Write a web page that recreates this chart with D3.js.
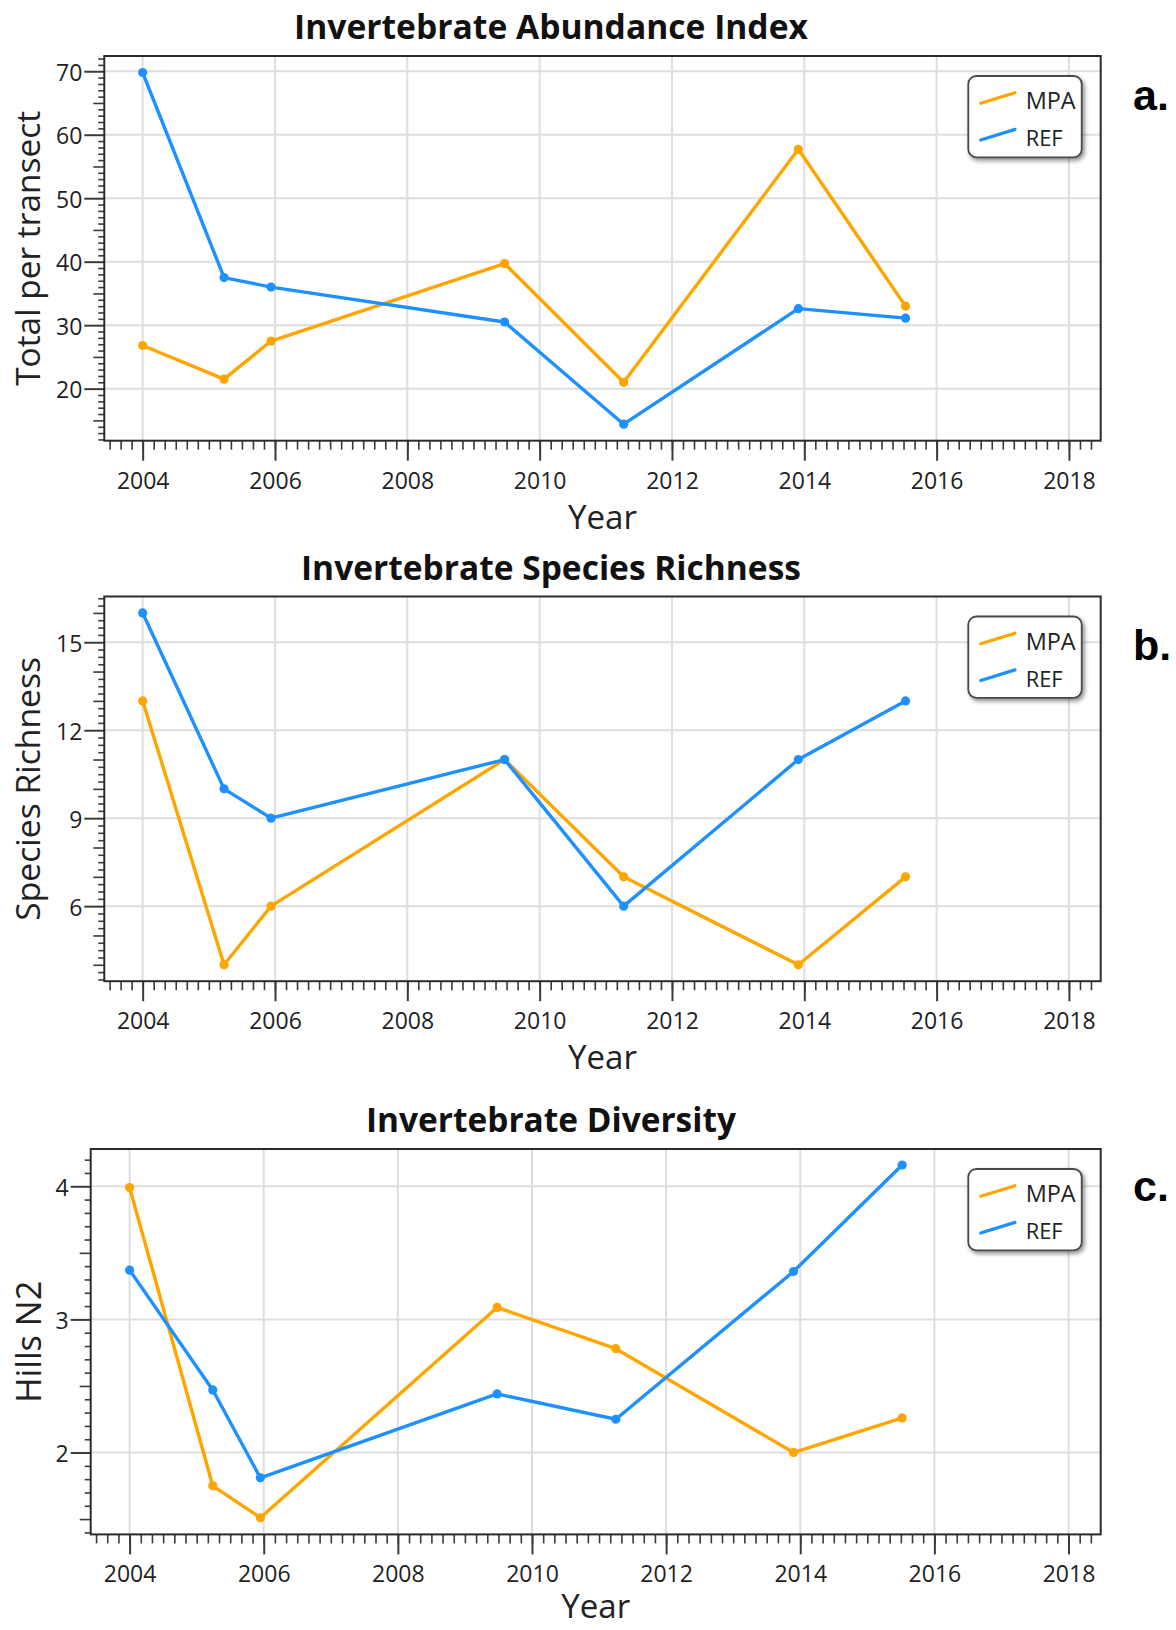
<!DOCTYPE html>
<html>
<head>
<meta charset="utf-8">
<script src="https://cdn.jsdelivr.net/npm/d3@7"></script>
<style>
  html, body { margin: 0; padding: 0; background: #fff; }
  svg { display: block; }
</style>
</head>
<body>
<svg id="chart" width="1176" height="1630"></svg>
<script>
// ---------------- DATA ----------------
const seriesNames = ["MPA", "REF"];
const seriesColors = ["#FFA500", "#1E90FF"];

const abundanceYears = [2004.0, 2005.23, 2005.94, 2009.47, 2011.27, 2013.91, 2015.53];
const abundanceMPA   = [26.8, 21.5, 27.5, 39.7, 21.0, 57.7, 33.0];
const abundanceREF   = [69.8, 37.5, 36.0, 30.5, 14.4, 32.6, 31.1];

const richnessYears = [2004.0, 2005.23, 2005.94, 2009.47, 2011.27, 2013.91, 2015.53];
const richnessMPA   = [13, 4, 6, 11, 7, 4, 7];
const richnessREF   = [16, 10, 9, 11, 6, 11, 13];

const diversityYears = [2004.0, 2005.24, 2005.95, 2009.48, 2011.25, 2013.9, 2015.52];
const diversityMPA   = [3.99, 1.75, 1.51, 3.09, 2.78, 2.0, 2.26];
const diversityREF   = [3.37, 2.47, 1.81, 2.44, 2.25, 3.36, 4.16];

const xTickYears = [2004, 2006, 2008, 2010, 2012, 2014, 2016, 2018];
const yTicksA = [20, 30, 40, 50, 60, 70];
const yTicksB = [6, 9, 12, 15];
const yTicksC = [2, 3, 4];

const titles = ["Invertebrate Abundance Index", "Invertebrate Species Richness", "Invertebrate Diversity"];
const yLabels = ["Total per transect", "Species Richness", "Hills N2"];
const xLabel = "Year";
const panelLetters = ["a.", "b.", "c."];

// ---------------- LAYOUT ----------------
const FONT = "'Segoe UI', 'Open Sans', 'Noto Sans', sans-serif";
const xDomain = [2003.42, 2018.48];

const panels = [
  { title: titles[0], yLabel: yLabels[0], letter: panelLetters[0],
    years: abundanceYears, series: [abundanceMPA, abundanceREF],
    yTicks: yTicksA, yDomain: [11.8, 72.4], minorStep: 1, midStep: 5,
    left: 104.3, right: 1100.7, top: 56, bottom: 440.7,
    titleW: 514, yLabW: 275, letterY: 110 },
  { title: titles[1], yLabel: yLabels[1], letter: panelLetters[1],
    years: richnessYears, series: [richnessMPA, richnessREF],
    yTicks: yTicksB, yDomain: [3.44, 16.56], minorStep: 0.25, midStep: 1,
    left: 104.3, right: 1100.7, top: 596.5, bottom: 981.2,
    titleW: 500, yLabW: 264, letterY: 660 },
  { title: titles[2], yLabel: yLabels[2], letter: panelLetters[2],
    years: diversityYears, series: [diversityMPA, diversityREF],
    yTicks: yTicksC, yDomain: [1.385, 4.28], minorStep: 0.1, midStep: 0.5,
    left: 90.7, right: 1100.7, top: 1149, bottom: 1534.4,
    titleW: 370, yLabW: 122, letterY: 1201 }
];

const svg = d3.select("#chart");

// drop shadow filter for legend
const defs = svg.append("defs");
const f = defs.append("filter").attr("id", "shadow").attr("x", "-20%").attr("y", "-20%").attr("width", "150%").attr("height", "150%");
f.append("feDropShadow").attr("dx", 2).attr("dy", 2.5).attr("stdDeviation", 2).attr("flood-color", "#000").attr("flood-opacity", 0.45);

function fitWidth(sel, target) {
  const w = sel.node().getComputedTextLength();
  const fs = parseFloat(sel.attr("font-size"));
  if (w > 0) sel.attr("font-size", (fs * target / w).toFixed(2));
}

function range(start, stop, step) {
  const out = [];
  const n = Math.floor((stop - start) / step + 1e-9);
  for (let i = 0; i <= n; i++) out.push(+(start + i * step).toFixed(6));
  return out;
}

panels.forEach((p) => {
  const g = svg.append("g");
  const x = d3.scaleLinear().domain(xDomain).range([p.left, p.right]);
  const y = d3.scaleLinear().domain(p.yDomain).range([p.bottom, p.top]);
  const W = p.right - p.left, H = p.bottom - p.top;

  // grid
  g.append("g").selectAll("line").data(xTickYears).join("line")
    .attr("x1", d => x(d)).attr("x2", d => x(d))
    .attr("y1", p.top).attr("y2", p.bottom)
    .attr("stroke", "#dedede").attr("stroke-width", 2);
  g.append("g").selectAll("line").data(p.yTicks).join("line")
    .attr("x1", p.left).attr("x2", p.right)
    .attr("y1", d => y(d)).attr("y2", d => y(d))
    .attr("stroke", "#dedede").attr("stroke-width", 2);

  // x axis: major ticks
  const xAxis = d3.axisBottom(x).tickValues(xTickYears).tickFormat(d3.format("d"))
    .tickSizeInner(20).tickSizeOuter(0).tickPadding(10);
  const xa = g.append("g").attr("transform", `translate(0,${p.bottom})`).call(xAxis);
  xa.select(".domain").remove();
  xa.selectAll(".tick line").attr("stroke", "#3a3a3a").attr("stroke-width", 2);
  xa.selectAll(".tick text").attr("font-family", FONT).attr("font-size", 23).attr("fill", "#222")
    .attr("y", 48).attr("dy", "0");
  // x minor ticks
  const xMinor = range(2003.5, 2018.48, 1 / 6).filter(v => v > xDomain[0] && v < xDomain[1]);
  const xm = d3.axisBottom(x).tickValues(xMinor).tickFormat("").tickSizeInner(9).tickSizeOuter(0);
  const xmg = g.append("g").attr("transform", `translate(0,${p.bottom})`).call(xm);
  xmg.select(".domain").remove();
  xmg.selectAll(".tick line").attr("stroke", "#3a3a3a").attr("stroke-width", 1.6);

  // y axis major
  const yAxis = d3.axisLeft(y).tickValues(p.yTicks).tickFormat(d3.format("d"))
    .tickSizeInner(20).tickSizeOuter(0).tickPadding(2);
  const ya = g.append("g").attr("transform", `translate(${p.left},0)`).call(yAxis);
  ya.select(".domain").remove();
  ya.selectAll(".tick line").attr("stroke", "#3a3a3a").attr("stroke-width", 2);
  ya.selectAll(".tick text").attr("font-family", FONT).attr("font-size", 23).attr("fill", "#222")
    .attr("dy", "0.4em");
  // y minor + medium ticks
  const lo = Math.ceil(p.yDomain[0] / p.minorStep - 1e-9) * p.minorStep;
  const yMinorAll = range(lo, p.yDomain[1], p.minorStep);
  const isMajor = v => p.yTicks.some(t => Math.abs(t - v) < 1e-6);
  const isMid = v => Math.abs(v / p.midStep - Math.round(v / p.midStep)) < 1e-6;
  const yMid = yMinorAll.filter(v => !isMajor(v) && isMid(v));
  const yMinor = yMinorAll.filter(v => !isMajor(v) && !isMid(v));
  const ymg = g.append("g").attr("transform", `translate(${p.left},0)`)
    .call(d3.axisLeft(y).tickValues(yMinor).tickFormat("").tickSizeInner(6).tickSizeOuter(0));
  ymg.select(".domain").remove();
  ymg.selectAll(".tick line").attr("stroke", "#3a3a3a").attr("stroke-width", 1.6);
  const ymd = g.append("g").attr("transform", `translate(${p.left},0)`)
    .call(d3.axisLeft(y).tickValues(yMid).tickFormat("").tickSizeInner(11).tickSizeOuter(0));
  ymd.select(".domain").remove();
  ymd.selectAll(".tick line").attr("stroke", "#3a3a3a").attr("stroke-width", 1.6);

  // plot frame
  g.append("rect").attr("x", p.left).attr("y", p.top).attr("width", W).attr("height", H)
    .attr("fill", "none").attr("stroke", "#2b2b2b").attr("stroke-width", 2);

  // series
  const line = d3.line().x((d) => x(d[0])).y((d) => y(d[1]));
  p.series.forEach((vals, si) => {
    const pts = p.years.map((yr, i) => [yr, vals[i]]);
    g.append("path").datum(pts).attr("d", line)
      .attr("fill", "none").attr("stroke", seriesColors[si]).attr("stroke-width", 3.4)
      .attr("stroke-linejoin", "round");
    g.append("g").selectAll("circle").data(pts).join("circle")
      .attr("cx", d => x(d[0])).attr("cy", d => y(d[1])).attr("r", 4.6)
      .attr("fill", seriesColors[si]);
  });

  // legend
  const lx = p.right - 19 - 113.4, ly = p.top + 20;
  const lg = g.append("g").attr("transform", `translate(${lx},${ly})`);
  lg.append("rect").attr("width", 113.4).attr("height", 81.3).attr("rx", 8).attr("ry", 8)
    .attr("fill", "#fff").attr("stroke", "#4a4a4a").attr("stroke-width", 1.8)
    .attr("filter", "url(#shadow)");
  seriesNames.forEach((name, i) => {
    const oy = 27.3 + i * 36.7;
    lg.append("line").attr("x1", 12.4).attr("y1", oy).attr("x2", 46.7).attr("y2", oy - 10.6)
      .attr("stroke", seriesColors[i]).attr("stroke-width", 3.2).attr("stroke-linecap", "round");
    const t = lg.append("text").attr("x", 57.4).attr("y", oy + 6).text(name)
      .attr("font-family", FONT).attr("font-size", 24).attr("fill", "#222");
    fitWidth(t, i === 0 ? 50 : 37);
  });

  // title
  const tt = svg.append("text").attr("x", 551).attr("y", p.top - 17)
    .attr("text-anchor", "middle").attr("font-family", FONT).attr("font-weight", "bold")
    .attr("font-size", 32).attr("fill", "#111").text(p.title);
  fitWidth(tt, p.titleW);

  // y label
  const yl = svg.append("text")
    .attr("transform", `translate(${p.left === 90.7 ? 41 : 40},${(p.top + p.bottom) / 2}) rotate(-90)`)
    .attr("text-anchor", "middle").attr("font-family", FONT).attr("font-size", 34).attr("fill", "#222")
    .text(p.yLabel);
  fitWidth(yl, p.yLabW);

  // x label
  const xl = svg.append("text").attr("x", (p.left + p.right) / 2).attr("y", Math.min(p.bottom + 88, 1618))
    .attr("text-anchor", "middle").attr("font-family", FONT).attr("font-size", 34).attr("fill", "#222")
    .text(xLabel);
  fitWidth(xl, 69);

  // panel letter
  svg.append("text").attr("x", 1133).attr("y", p.letterY)
    .attr("font-family", "'Liberation Sans', Arial, sans-serif").attr("font-weight", "bold")
    .attr("font-size", 43).attr("fill", "#000").text(p.letter);
});
</script>
</body>
</html>
